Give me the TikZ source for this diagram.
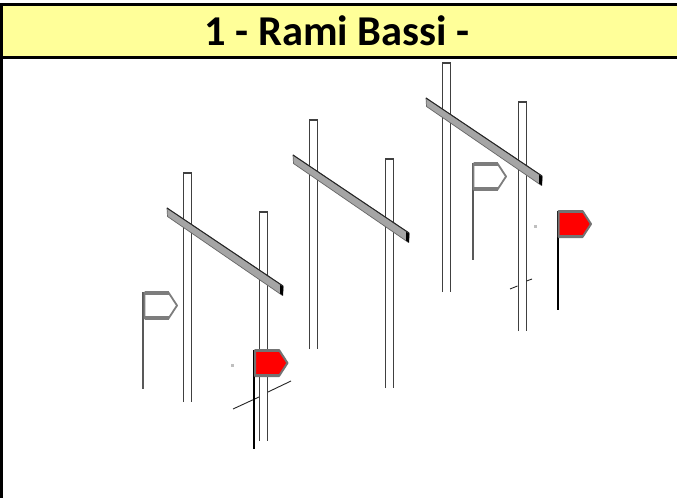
\documentclass[tikz,border=0pt]{standalone}
\usepackage{fontspec}
\setmainfont{Carlito}
\definecolor{hdr}{RGB}{255,255,153}
\definecolor{beamgray}{RGB}{165,165,165}
\definecolor{flaggray}{RGB}{125,125,125}
\tikzset{
  post/.style={draw=black!75,line width=1.3pt,fill=white},
  beamface/.style={draw=black!60,line width=.7pt,fill=beamgray,line join=round},
  sigpole/.style={line width=1.3pt,draw=black!65},
  redpole/.style={line width=2.6pt,draw=black},
  whiteflag/.style={draw=flaggray,line width=1.8pt,fill=white,line join=round},
  redflag/.style={draw=black!55,line width=2pt,fill=red,line join=round},
  tick/.style={line width=.9pt,draw=black!85},
  speck/.style={fill=black!25,draw=none}
}
\newcommand{\gantry}[2]{%
  \begin{scope}[shift={(#1,#2)}]
    \draw[post] (183.5,402) -- (183.5,173) -- (191.5,173) -- (191.5,402);
    \draw[post] (259.7,441) -- (259.7,212) -- (267.7,212) -- (267.7,441);
    \draw[beamface] (167,208) -- (283,286) -- (282.5,295.5) -- (167.5,216.5) -- cycle;
    \fill[black] (280,285) -- (283.5,286.5) -- (283,295.5) -- (280,293.5) -- cycle;
    \draw[black!85,line width=1pt] (167,208) -- (283,286);
  \end{scope}}
\newcommand{\flagshape}[3]{% style, x, y(top)
  \draw[#1] (#2,#3) -- ++(24,0) -- ++(8.5,13) -- ++(-8.5,13) -- ++(-24,0) -- cycle;
  \draw[#1,line width=3.4pt,fill=none] (#2,#3+.5) -- ++(24,0) (#2,#3+25.5) -- ++(24,0);}
\begin{document}
\begin{tikzpicture}[x=1pt,y=-1pt]
  \useasboundingbox (0,0) rectangle (677,498);
  \fill[white] (0,0) rectangle (677,498);
  \fill[hdr] (0,4) rectangle (677,58);
  \draw[black,line width=3pt] (0,4.5) -- (677,4.5);
  \draw[black,line width=3pt] (0,57.5) -- (677,57.5);
  \draw[black,line width=3pt] (1.5,3) -- (1.5,498);
  \node[font=\bfseries\fontsize{42.5}{46}\selectfont,inner sep=0pt,anchor=base] (title) at (337,45.5) {1 - Rami Bassi -};

  \gantry{0}{0}
  \gantry{126}{-53}
  \gantry{259}{-110}

  % grey signals
  \draw[sigpole] (143,292) -- (143,389);
  \flagshape{whiteflag}{144.5}{292.5}
  \draw[sigpole] (473,163) -- (473,260);
  \flagshape{whiteflag}{473.5}{163.5}

  % ticks
  \draw[tick] (233,409) -- (259,397);
  \draw[tick] (268,392) -- (291,381);
  \draw[tick] (510,289) -- (517.5,286);
  \draw[tick] (526.5,281) -- (532,279);

  % red signals
  \draw[redpole] (254,350) -- (254,449);
  \flagshape{redflag}{255}{350}
  \draw[redpole] (558,211) -- (558,310);
  \flagshape{redflag}{558.5}{211}

  % specks
  \fill[speck] (231,363.5) rectangle (233.5,367);
  \fill[speck] (534,224.5) rectangle (536.5,228);
\end{tikzpicture}
\end{document}
